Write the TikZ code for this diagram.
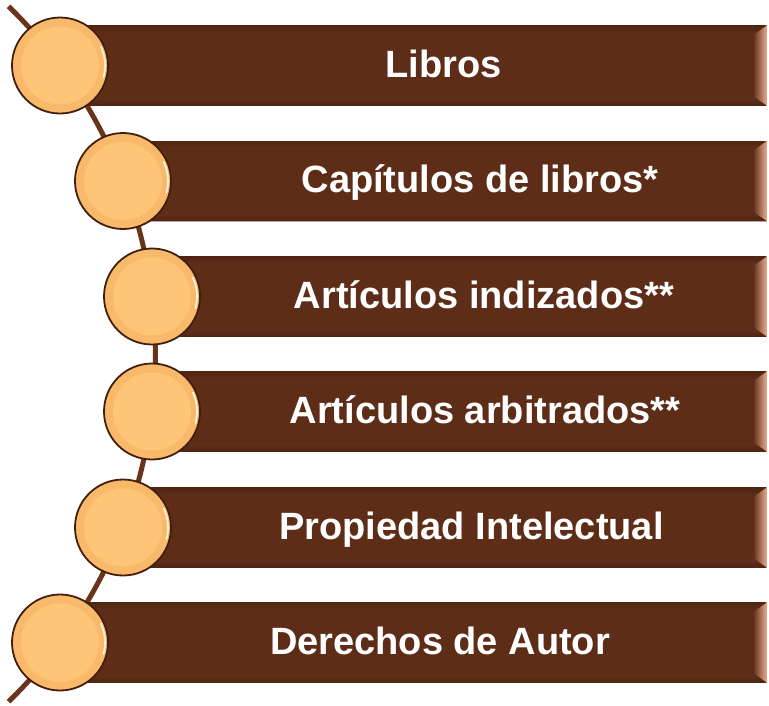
\documentclass[tikz,border=0pt]{standalone}
\usepackage{fontspec}
\setmainfont{Liberation Sans}
\usetikzlibrary{calc}
\definecolor{barbrown}{RGB}{94,45,24}
\definecolor{bardark}{RGB}{80,37,18}
\definecolor{linebrown}{RGB}{105,52,25}
\definecolor{discfill}{RGB}{248,186,106}
\definecolor{discinner}{RGB}{254,196,120}
\definecolor{discrim}{RGB}{66,30,12}
\definecolor{bevelc}{RGB}{232,170,140}
\definecolor{baredge}{RGB}{185,165,155}
\begin{document}
\begin{tikzpicture}[x=1pt,y=-1pt,
  barbox/.style={draw=baredge, line width=0.6pt, fill=barbrown, inner sep=0pt, minimum height=80pt},
  discnode/.style={circle, draw=discrim, line width=1.8pt, fill=discfill, minimum size=96pt, inner sep=0pt},
  bartext/.style={text=white, font=\fontsize{38}{45}\selectfont\bfseries, inner sep=0pt, anchor=base}]
\useasboundingbox (0,0) rectangle (769,705);

% connecting curve
\coordinate (ltop) at ({-329.6+485*cos(45.8)},{354-485*sin(45.8)});
\draw[linebrown, line width=5pt] (ltop) arc[start angle=-45.8, end angle=45.8, radius=485];

% bars
\foreach \n/\cx/\cy in {1/60/65.5, 2/123/181, 3/152/296.5, 4/152/411.5, 5/123/527.5, 6/60/642.5}{
  \pgfmathsetmacro{\w}{767-\cx}
  \node[barbox, minimum width=\w pt, anchor=east] (b\n) at (767,\cy) {};
  \shade[top color=bardark, bottom color=barbrown] ($(b\n.north west)+(0,0.5)$) rectangle ($(b\n.north east)+(-1,7)$);
  \shade[top color=barbrown, bottom color=bardark] ($(b\n.south west)+(0,-7)$) rectangle ($(b\n.south east)+(-1,-0.5)$);
  \shade[left color=barbrown, right color=bevelc] ($(b\n.north east)+(-14,10)$) -- ($(b\n.north east)+(-0.5,0.5)$) -- ($(b\n.south east)+(-0.5,-0.5)$) -- ($(b\n.south east)+(-14,-10)$) -- cycle;
}

% discs
\foreach \n/\cx/\cy in {1/60/65.5, 2/123/181, 3/152/296.5, 4/152/411.5, 5/123/527.5, 6/60/642.5}{
  \node[discnode] (c\n) at (\cx,\cy) {};
  \fill[discinner] (c\n.center) circle[radius=39];
  \draw[white, line width=1.6pt, opacity=0.85, line cap=round] ($(c\n.center)+(-25:45)$) arc[start angle=-25, end angle=15, radius=45];
}

% texts
\node[bartext] (t1) at (443.5,77) {Libros};
\node[bartext] (t2) at (480,192.5) {Capítulos de libros*};
\node[bartext] (t3) at (484,308) {Artículos indizados**};
\node[bartext] (t4) at (485,423) {Artículos arbitrados**};
\node[bartext] (t5) at (471.5,539) {Propiedad Intelectual};
\node[bartext] (t6) at (440,654) {Derechos de Autor};
\end{tikzpicture}
\end{document}
